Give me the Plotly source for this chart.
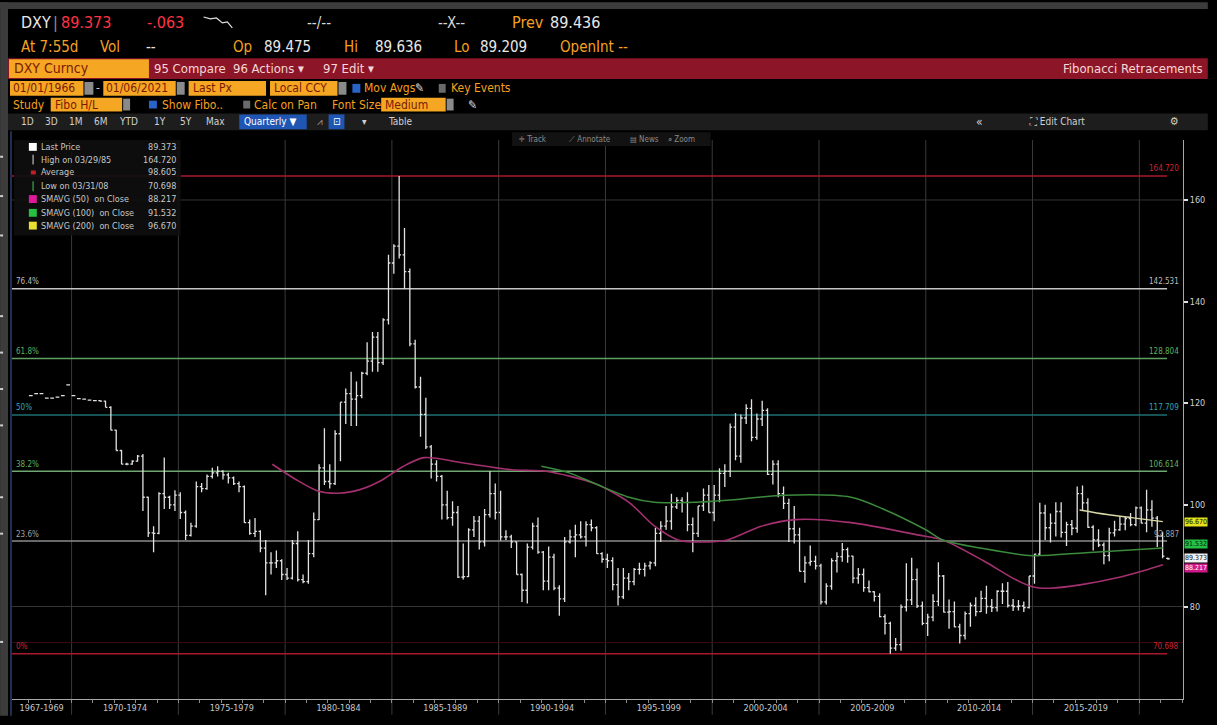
import plotly.graph_objects as go

# ---------------- DATA ----------------
first_year, first_quarter = 1967, 4

opens = [
    121.5,
    121.9, 121.9, 121.0, 121.0,
    121.2, 121.5, 123.6, 121.5,
    120.9, 120.8, 120.6, 120.5,
    120.5, 120.4, 119.2, 114.7,
    110.7, 108.0, 108.0, 108.6,
    109.6, 101.5, 94.5, 94.4,
    102.2, 101.5, 100.0, 101.9,
    98.5, 94.0, 95.8, 103.6,
    103.2, 105.6, 106.3, 106.6,
    105.9, 105.3, 104.2, 103.6,
    96.5, 94.4, 94.8, 91.5,
    88.6, 88.6, 89.0, 86.3,
    85.6, 92.4, 85.3, 84.9,
    90.4, 97.1, 107.3, 104.6,
    104.2, 114.0, 120.2, 121.9,
    120.8, 121.5, 125.9, 128.3,
    133.0, 128.0, 136.4, 147.6,
    150.9, 149.2, 145.9, 131.7,
    123.2, 117.8, 111.4, 108.0,
    105.6, 100.0, 97.5, 98.5,
    85.8, 85.9, 95.1, 96.8,
    92.7, 98.1, 102.2, 98.5,
    93.7, 93.7, 92.7, 86.3,
    83.2, 91.7, 95.8, 90.7,
    85.0, 89.7, 83.6, 81.5,
    92.7, 93.7, 94.1, 93.7,
    96.1, 95.5, 90.4, 89.3,
    89.0, 84.3, 81.9, 85.6,
    84.9, 87.3, 87.3, 88.0,
    88.6, 94.4, 95.8, 96.8,
    99.6, 100.9, 100.5, 96.1,
    94.4, 99.8, 101.9, 98.5,
    101.9, 106.2, 106.6, 115.3,
    109.6, 117.1, 119.0, 113.3,
    116.9, 118.6, 106.0, 108.0,
    102.2, 100.3, 95.3, 94.1,
    86.9, 88.6, 88.9, 88.0,
    80.9, 84.0, 89.0, 89.8,
    91.2, 89.9, 85.6, 86.3,
    83.7, 82.9, 82.0, 78.0,
    76.7, 71.8, 72.5, 79.9,
    81.3, 85.3, 80.1, 76.7,
    77.9, 81.0, 86.0, 78.9,
    79.0, 76.0, 74.3, 78.6,
    80.2, 79.0, 81.6, 80.0,
    79.8, 83.0, 83.0, 80.2,
    80.0, 80.1, 79.8, 86.0,
    90.3, 98.4, 95.5, 96.4,
    98.7, 94.6, 96.1, 95.4,
    102.2, 100.4, 95.6, 93.1,
    92.1, 90.0, 94.5, 95.1,
    96.2, 97.3, 96.1, 99.4,
    96.4, 99.0, 97.4, 93.9,
    89.475,
]
highs = [
    121.5,
    121.9, 121.9, 121.0, 121.0,
    121.2, 121.5, 123.6, 121.5,
    120.9, 120.8, 120.6, 120.5,
    120.6, 120.5, 119.4, 114.8,
    110.8, 108.3, 108.8, 109.8,
    110.0, 101.6, 95.8, 102.5,
    109.3, 101.8, 102.9, 102.5,
    98.9, 96.5, 104.6, 104.3,
    106.0, 107.3, 107.6, 106.8,
    106.3, 105.6, 104.6, 103.8,
    97.1, 97.4, 95.0, 93.1,
    90.7, 91.0, 89.3, 87.6,
    93.1, 94.8, 86.3, 93.1,
    98.5, 108.0, 115.1, 108.0,
    114.7, 120.2, 122.9, 126.2,
    124.3, 126.2, 132.0, 134.0,
    134.0, 136.7, 149.2, 151.3,
    164.72, 154.5, 146.5, 132.5,
    125.2, 121.1, 111.8, 108.8,
    105.9, 102.8, 100.7, 99.8,
    92.4, 95.4, 97.8, 97.8,
    99.2, 106.6, 104.2, 102.8,
    95.0, 94.1, 92.8, 86.5,
    92.4, 96.5, 97.5, 90.9,
    91.8, 90.4, 84.2, 93.7,
    95.1, 96.1, 96.8, 96.8,
    97.1, 95.8, 90.7, 90.4,
    89.7, 87.6, 87.6, 86.6,
    87.6, 88.6, 88.6, 88.9,
    95.5, 96.8, 99.8, 102.2,
    101.5, 101.5, 102.5, 97.5,
    99.8, 103.2, 103.9, 103.9,
    107.2, 108.0, 116.0, 118.1,
    117.8, 119.8, 120.8, 118.0,
    120.5, 119.0, 108.8, 108.8,
    103.6, 101.2, 99.8, 95.5,
    89.9, 92.0, 90.0, 88.4,
    84.6, 89.5, 90.7, 92.5,
    91.6, 90.0, 87.6, 87.5,
    85.1, 83.0, 82.6, 78.5,
    77.0, 73.8, 80.4, 88.5,
    89.6, 87.5, 81.0, 78.6,
    82.4, 88.7, 86.2, 81.4,
    81.0, 76.6, 79.0, 80.8,
    81.8, 83.1, 84.1, 81.5,
    83.2, 84.6, 84.8, 81.5,
    81.3, 81.0, 86.0, 90.4,
    100.4, 100.0, 98.3, 100.5,
    100.5, 96.7, 97.0, 103.6,
    103.8, 101.3, 96.0, 95.2,
    92.6, 95.5, 96.9, 97.7,
    97.7, 98.4, 99.7, 99.7,
    103.0, 100.9, 97.8, 94.7,
    89.636,
]
lows = [
    121.5,
    121.9, 121.9, 121.0, 121.0,
    121.2, 121.5, 123.6, 121.5,
    120.9, 120.8, 120.6, 120.5,
    120.3, 119.2, 114.7, 110.7,
    108.0, 107.8, 107.9, 108.5,
    98.8, 93.7, 90.7, 94.2,
    99.2, 99.2, 98.8, 97.2,
    93.1, 93.8, 95.5, 102.5,
    103.0, 105.2, 105.6, 105.0,
    104.2, 103.9, 102.5, 96.5,
    94.1, 93.7, 90.7, 82.2,
    86.3, 87.6, 85.2, 85.2,
    85.3, 84.9, 84.6, 84.5,
    89.7, 97.0, 103.9, 103.2,
    103.9, 108.6, 115.9, 115.5,
    115.5, 121.0, 125.5, 126.2,
    126.2, 127.5, 135.5, 145.5,
    148.5, 142.5, 131.2, 122.9,
    113.4, 111.0, 105.2, 104.6,
    97.1, 97.1, 95.9, 85.6,
    85.3, 85.8, 93.7, 91.2,
    91.8, 97.5, 97.1, 93.0,
    93.1, 91.5, 86.3, 80.9,
    80.6, 91.2, 90.4, 83.2,
    83.2, 83.2, 78.2, 80.9,
    92.4, 89.7, 93.4, 91.8,
    94.8, 90.4, 88.6, 87.6,
    83.2, 80.2, 81.5, 83.2,
    84.2, 86.3, 85.9, 87.3,
    87.9, 92.7, 95.1, 95.1,
    99.2, 98.5, 94.8, 90.7,
    93.7, 98.8, 98.5, 96.8,
    100.5, 103.5, 105.5, 108.8,
    108.3, 115.9, 112.5, 112.8,
    115.5, 105.9, 104.0, 101.5,
    99.2, 92.7, 92.4, 86.9,
    84.7, 88.0, 87.3, 80.4,
    80.4, 83.3, 86.7, 88.8,
    88.6, 84.6, 84.5, 82.9,
    82.8, 81.0, 77.9, 74.5,
    70.698, 71.3, 71.3, 79.0,
    80.3, 79.7, 76.3, 74.2,
    77.1, 80.1, 78.8, 75.6,
    75.9, 72.7, 73.5, 76.0,
    78.1, 78.9, 78.6, 78.9,
    79.0, 80.5, 79.8, 79.1,
    79.2, 78.9, 79.6, 84.5,
    90.0, 93.1, 92.6, 93.8,
    93.6, 91.9, 94.0, 94.5,
    98.9, 95.5, 91.0, 91.7,
    88.3, 88.9, 93.8, 94.9,
    95.0, 95.8, 95.8, 96.4,
    94.6, 95.7, 91.7, 89.5,
    89.209,
]
closes = [
    121.5,
    121.9, 121.9, 121.0, 121.0,
    121.2, 121.5, 123.6, 121.5,
    120.9, 120.8, 120.6, 120.5,
    120.4, 119.2, 114.7, 110.7,
    108.0, 108.0, 108.6, 109.6,
    101.5, 94.5, 94.4, 102.2,
    101.5, 100.0, 101.9, 98.5,
    94.0, 95.8, 103.6, 103.2,
    105.6, 106.3, 106.6, 105.9,
    105.3, 104.2, 103.6, 96.5,
    94.4, 94.8, 91.5, 88.6,
    88.6, 89.0, 86.3, 85.6,
    92.4, 85.3, 84.9, 90.4,
    97.1, 107.3, 104.6, 104.2,
    114.0, 120.2, 121.9, 120.8,
    121.5, 125.9, 128.3, 133.0,
    128.0, 136.4, 147.6, 150.9,
    149.2, 145.9, 131.7, 123.2,
    117.8, 111.4, 108.0, 105.6,
    100.0, 97.5, 98.5, 85.8,
    85.9, 95.1, 96.8, 92.7,
    98.1, 102.2, 98.5, 93.7,
    93.7, 92.7, 86.3, 83.2,
    91.7, 95.8, 90.7, 85.0,
    89.7, 83.6, 81.5, 92.7,
    93.7, 94.1, 93.7, 96.1,
    95.5, 90.4, 89.3, 89.0,
    84.3, 81.9, 85.6, 84.9,
    87.3, 87.3, 88.0, 88.6,
    94.4, 95.8, 96.8, 99.6,
    100.9, 100.5, 96.1, 94.4,
    99.8, 101.9, 98.5, 101.9,
    106.2, 106.6, 115.3, 109.6,
    117.1, 119.0, 113.3, 116.9,
    118.6, 106.0, 108.0, 102.2,
    100.3, 95.3, 94.1, 86.9,
    88.6, 88.9, 88.0, 80.9,
    84.0, 89.0, 89.8, 91.2,
    89.9, 85.6, 86.3, 83.7,
    82.9, 82.0, 78.0, 76.7,
    71.8, 72.5, 79.9, 81.3,
    85.3, 80.1, 76.7, 77.9,
    81.0, 86.0, 78.9, 79.0,
    76.0, 74.3, 78.6, 80.2,
    79.0, 81.6, 80.0, 79.8,
    83.0, 83.0, 80.2, 80.0,
    80.1, 79.8, 86.0, 90.3,
    98.4, 95.5, 96.4, 98.7,
    94.6, 96.1, 95.4, 102.2,
    100.4, 95.6, 93.1, 92.1,
    90.0, 94.5, 95.1, 96.2,
    97.3, 96.1, 99.4, 96.4,
    99.0, 97.4, 93.9, 89.9,
    89.373,
]

# moving averages (year, value)
sma50_x = [1979.4, 1980.5, 1981.5, 1982.5, 1983.5, 1984.5, 1985.5, 1986.5, 1988.3, 1990.6,
           1992.2, 1994.5, 1996.1, 1997.3, 1998.4, 1999.2, 2000.7, 2002.3, 2003.9, 2006.5,
           2009.6, 2010.8, 2012.7, 2014.2, 2015.0, 2015.8, 2017.3, 2018.9, 2020.4, 2021.1]
sma50_y = [108.0, 105.0, 102.8, 102.3, 103.0, 104.8, 107.5, 109.3, 108.3, 106.9,
           106.6, 104.2, 100.5, 95.8, 93.1, 92.7, 93.1, 95.8, 97.1, 96.5,
           94.1, 93.1, 89.0, 85.3, 83.9, 83.6, 84.3, 85.6, 87.3, 88.2]
sma100_x = [1992.0, 1993.3, 1994.5, 1996.1, 1997.3, 1999.2, 2000.7, 2003.4, 2006.5, 2008.0,
            2010.0, 2010.8, 2012.7, 2015.0, 2017.5, 2021.1]
sma100_y = [107.6, 106.3, 104.2, 101.5, 100.5, 100.5, 100.9, 101.9, 101.5, 99.2,
            95.1, 93.1, 91.4, 90.0, 90.6, 91.5]
sma200_x = [2017.2, 2018.5, 2019.8, 2021.1]
sma200_y = [99.0, 98.1, 97.4, 96.7]

# Fibonacci retracement levels
fib_pct = ["100%", "76.4%", "61.8%", "50%", "38.2%", "23.6%", "0%"]
fib_val = [164.720, 142.531, 128.804, 117.709, 106.614, 92.887, 70.698]
fib_lbl = ["164.720", "142.531", "128.804", "117.709", "106.614", "92.887", "70.698"]

period_labels = ["1967-1969", "1970-1974", "1975-1979", "1980-1984", "1985-1989", "1990-1994",
                 "1995-1999", "2000-2004", "2005-2009", "2010-2014", "2015-2019"]
period_mid = [1968.6, 1972.5, 1977.5, 1982.5, 1987.5, 1992.5, 1997.5, 2002.5, 2007.5, 2012.5, 2017.5]
period_starts = [1970, 1975, 1980, 1985, 1990, 1995, 2000, 2005, 2010, 2015, 2020]
y_ticks = [80, 100, 120, 140, 160]
grid_levels = [80, 160]

legend_rows = [("Last Price", "89.373"), ("High on 03/29/85", "164.720"), ("Average", "98.605"),
               ("Low on 03/31/08", "70.698"), ("SMAVG (50)  on Close", "88.217"),
               ("SMAVG (100)  on Close", "91.532"), ("SMAVG (200)  on Close", "96.670")]

# ---------------- LAYOUT HELPERS ----------------
W, H = 1217, 725
L, R, T, B = 12, 1192, 140, 708
XR = [1967.21, 2022.045]
YR = [61.8, 171.8]


def px(x):
    return (x - L) / (R - L)


def py(y):
    return (B - y) / (B - T)


FONT = "Liberation Sans Narrow, DejaVu Sans Condensed, Arial Narrow, sans-serif"
AMBER = "#f5a021"
annotations, shapes = [], []


def text(x, y, s, color, size, anchor="left", bg=None):
    a = dict(xref="paper", yref="paper", x=px(x), y=py(y), text=s, showarrow=False,
             xanchor=anchor, yanchor="middle", borderpad=0,
             font=dict(family=FONT, size=size, color=color))
    if bg:
        a["bgcolor"] = bg
    annotations.append(a)


def rect(x0, y0, x1, y1, fill, layer="below", line=None):
    shapes.append(dict(type="rect", xref="paper", yref="paper", x0=px(x0), x1=px(x1),
                       y0=py(y1), y1=py(y0), fillcolor=fill, layer=layer,
                       line=dict(width=0) if line is None else dict(width=1, color=line)))


# ---------------- FIGURE ----------------
n = len(closes)
# bars are drawn near the end of each quarter, as in the terminal chart
bar_x = [first_year + (first_quarter - 1) / 4 + 0.34 + 0.25 * i for i in range(n)]

fig = go.Figure()
fig.add_trace(go.Ohlc(x=bar_x, open=opens, high=highs, low=lows, close=closes,
                      increasing=dict(line=dict(color="#e2e2e2", width=1.3)),
                      decreasing=dict(line=dict(color="#e2e2e2", width=1.3)),
                      tickwidth=0.35, hoverinfo="skip", showlegend=False))
fig.add_trace(go.Scatter(x=sma50_x, y=sma50_y, mode="lines", line=dict(color="#a3306f", width=1.6, shape="spline", smoothing=0.8),
                         hoverinfo="skip", showlegend=False))
fig.add_trace(go.Scatter(x=sma100_x, y=sma100_y, mode="lines", line=dict(color="#3c8a3c", width=1.5, shape="spline", smoothing=0.8),
                         hoverinfo="skip", showlegend=False))
fig.add_trace(go.Scatter(x=sma200_x, y=sma200_y, mode="lines", line=dict(color="#d8d8a8", width=1.4, shape="spline", smoothing=0.8),
                         hoverinfo="skip", showlegend=False))

# grid / separators
for g in grid_levels:
    shapes.append(dict(type="line", xref="paper", yref="y", x0=0, x1=1, y0=g, y1=g,
                       line=dict(color="#333333", width=1), layer="below"))
for s in period_starts:
    shapes.append(dict(type="line", xref="x", yref="paper", x0=s, x1=s, y0=py(724), y1=1,
                       line=dict(color="#3a3a3a", width=1), layer="below"))
# faint low marker line
shapes.append(dict(type="line", xref="paper", yref="y", x0=0, x1=1, y0=72.9, y1=72.9,
                   line=dict(color="#3a0c14", width=1), layer="below"))

fib_line_col = ["#a8192c", "#c4c4c4", "#5f9f62", "#1f6f72", "#6fa772", "#8c8c8c", "#a8192c"]
fib_txt_col = ["#d2202f", "#bdbdbd", "#5fb060", "#2fa6b8", "#62b062", "#a0a0a0", "#d2202f"]
for i, v in enumerate(fib_val):
    shapes.append(dict(type="line", xref="x", yref="y", x0=XR[0], x1=2021.3, y0=v, y1=v,
                       line=dict(color=fib_line_col[i], width=1.5), layer="below"))
    annotations.append(dict(xref="paper", yref="y", x=0.9985, y=v, yshift=7, text=fib_lbl[i],
                            showarrow=False, xanchor="right", yanchor="middle",
                            font=dict(family=FONT, size=8, color=fib_txt_col[i])))
    if i > 0:
        annotations.append(dict(xref="paper", yref="y", x=0.002, y=v, yshift=7, text=fib_pct[i],
                                showarrow=False, xanchor="left", yanchor="middle",
                                font=dict(family=FONT, size=8, color=fib_txt_col[i])))

# ---- frame & header ----
rect(0, 0, W, 7, "#3c3c3c")
rect(0, 0, 8, H, "#3c3c3c")
for yy in [157, 197, 237, 319, 356, 393, 430, 503, 540, 650]:
    rect(0, yy - 1, 3, yy + 1, "#d0d0d0")
shapes.append(dict(type="line", xref="paper", yref="paper", x0=px(11), x1=px(11), y0=py(H), y1=py(131),
                   line=dict(color="#2b3f6b", width=1.5), layer="below"))

# row 1
text(20, 21, "DXY", "#e8e8e8", 16)
text(52, 21, "|", "#909090", 16)
text(60, 21, "89.373", "#ff3344", 16)
text(147, 21, "-.063", "#ff3344", 16)
shapes.append(dict(type="path", xref="paper", yref="paper", layer="above",
                   path="M {},{} L {},{} L {},{} L {},{} L {},{} L {},{}".format(
                       px(205), py(15), px(212), py(17), px(218), py(16), px(224), py(21), px(229), py(20), px(234), py(26)),
                   line=dict(color="#e0e0e0", width=1.2)))
text(308, 21, "--/--", "#d8d8d8", 15)
text(440, 21, "--X--", "#d8d8d8", 15)
text(515, 21, "Prev", AMBER, 16)
text(553, 21, "89.436", "#e8e8e8", 16)
# row 2
text(20, 45, "At 7:55d", AMBER, 15)
text(100, 45, "Vol", AMBER, 15)
text(146, 45, "--", "#e8e8e8", 15)
text(234, 45, "Op", AMBER, 15)
text(265, 45, "89.475", "#e8e8e8", 15)
text(346, 45, "Hi", AMBER, 15)
text(377, 45, "89.636", "#e8e8e8", 15)
text(456, 45, "Lo", AMBER, 15)
text(483, 45, "89.209", "#e8e8e8", 15)
text(563, 45, "OpenInt --", AMBER, 15)

# red command bar
rect(8, 57, W, 78, "#8c1628")
rect(9, 58, 150, 77, "#f5a623")
text(13, 67, "DXY Curncy", "#7a1a05", 14)
text(154, 67, "95 Compare", "#f6d6d6", 13)
text(234, 67, "96 Actions ▾", "#f6d6d6", 13)
text(324, 67, "97 Edit ▾", "#f6d6d6", 13)
text(1213, 67, "Fibonacci Retracements", "#f6d6d6", 13, anchor="right")

# date row
rect(10, 80, 84, 95, "#f5a623")
rect(85, 81, 94, 94, "#8a8a8a")
rect(104, 80, 177, 95, "#f5a623")
rect(178, 81, 186, 94, "#8a8a8a")
rect(190, 80, 268, 95, "#f5a623")
rect(272, 80, 340, 95, "#f5a623")
rect(341, 81, 349, 94, "#8a8a8a")
rect(355, 83, 363, 92, "#2a64c8")
rect(442, 83, 449, 92, "#6a6a6a")
text(12, 87.5, "01/01/1966", "#7a1a05", 12)
text(96, 87.5, "-", "#d0d0d0", 12)
text(106, 87.5, "01/06/2021", "#7a1a05", 12)
text(193, 87.5, "Last Px", "#7a1a05", 12)
text(275, 87.5, "Local CCY", "#7a1a05", 12)
text(366, 87.5, "Mov Avgs", AMBER, 12)
text(417, 87.5, "✎", "#e0e0e0", 12)
text(453, 87.5, "Key Events", AMBER, 12)

# study row
text(12, 104, "Study", AMBER, 12)
rect(51, 97, 123, 111, "#f5a623")
rect(124, 98, 131, 110, "#8a8a8a")
text(54, 104, "Fibo H/L", "#7a1a05", 12)
rect(150, 100, 158, 108, "#2a64c8")
text(162, 104, "Show Fibo..", AMBER, 12)
rect(245, 100, 252, 108, "#6a6a6a")
text(255, 104, "Calc on Pan", AMBER, 12)
text(333, 104, "Font Size", AMBER, 12)
rect(384, 97, 449, 111, "#f5a623")
rect(450, 98, 457, 110, "#8a8a8a")
text(387, 104, "Medium", "#7a1a05", 12)
text(470, 104, "✎", "#e0e0e0", 12)

# toolbar row
rect(8, 113, W, 130, "#1d1d1d")
for lab, xx in [("1D", 20), ("3D", 44), ("1M", 68), ("6M", 94), ("YTD", 119), ("1Y", 154), ("5Y", 180), ("Max", 206)]:
    text(xx, 121.5, lab, "#d0d0d0", 10)
rect(241, 114, 309, 129, "#1f56b3")
text(245, 121.5, "Quarterly ▼", "#ffffff", 10)
text(318, 121.5, "⩘", "#9a9a9a", 10)
rect(331, 114, 347, 129, "#1f56b3")
text(334, 121.5, "⊡", "#ffffff", 10)
text(364, 121.5, "▾", "#d0d0d0", 10)
text(390, 121.5, "Table", "#d0d0d0", 10)
text(982, 121.5, "«", "#d0d0d0", 12)
text(1036, 121.5, "⛶ Edit Chart", "#d0d0d0", 10)
text(1178, 121.5, "⚙", "#d0d0d0", 11)

# track / annotate overlay
rect(516, 132, 716, 146, "#121212")
text(522, 139, "✛ Track", "#8a8a8a", 8)
text(572, 139, "⟋ Annotate", "#8a8a8a", 8)
text(634, 139, "▤ News", "#8a8a8a", 8)
text(672, 139, "⌕ Zoom", "#8a8a8a", 8)

# in-chart legend box
rect(14, 140, 182, 237, "rgba(14,14,14,0.9)", layer="above")
leg_y = [147, 160, 173, 187, 200, 214, 227]
sym = [("sq", "#ffffff"), ("ln", "#9a9a9a"), ("dot", "#c0202a"), ("ln", "#2f8f3f"),
       ("sq", "#e0189a"), ("sq", "#28c040"), ("sq", "#e8e030")]
for (lab, val), yy, (kind, col) in zip(legend_rows, leg_y, sym):
    if kind == "sq":
        rect(29, yy - 4, 37, yy + 4, col, layer="above")
    elif kind == "ln":
        rect(32.5, yy - 5, 34, yy + 5, col, layer="above")
    else:
        rect(31, yy - 2, 36, yy + 2, col, layer="above")
    text(40, yy, lab, "#c8c8c8", 9)
    text(178, yy, val, "#c8c8c8", 9, anchor="right")

# right edge value boxes
text(1193, 575, "88.217", "#ffffff", 7, bg="#d0188a")
text(1193, 528, "96.670", "#111111", 7, bg="#e6e21a")
text(1193, 551, "91.532", "#111111", 7, bg="#22c043")
text(1193, 565, "89.373", "#111111", 7, bg="#f2f2f2")

fig.update_layout(
    width=W, height=H,
    margin=dict(l=L, r=W - R, t=T, b=H - B, pad=0),
    paper_bgcolor="#000000", plot_bgcolor="#000000",
    showlegend=False,
    xaxis=dict(range=XR, rangeslider=dict(visible=False), showgrid=False, zeroline=False,
               tickmode="array", tickvals=period_mid, ticktext=period_labels, ticks="",
               tickfont=dict(family=FONT, size=9, color="#c8c8c8"),
               showline=True, linecolor="#a8a8a8", linewidth=1,
               minor=dict(ticks="outside", tick0=1970, dtick=1, ticklen=3, tickcolor="#8a8a8a")),
    yaxis=dict(range=YR, side="right", showgrid=False, zeroline=False,
               tickmode="array", tickvals=y_ticks, ticks="outside", ticklen=4, tickwidth=2,
               tickcolor="#e0e0e0", tickfont=dict(family=FONT, size=9, color="#d0d0d0"),
               showline=True, linecolor="#a8a8a8", linewidth=1),
    shapes=shapes, annotations=annotations,
)

fig.write_html("out.html", config={"displayModeBar": False},
               post_script="document.body.style.margin='0';document.body.style.overflow='hidden';"
                           "document.body.style.background='#000';")
